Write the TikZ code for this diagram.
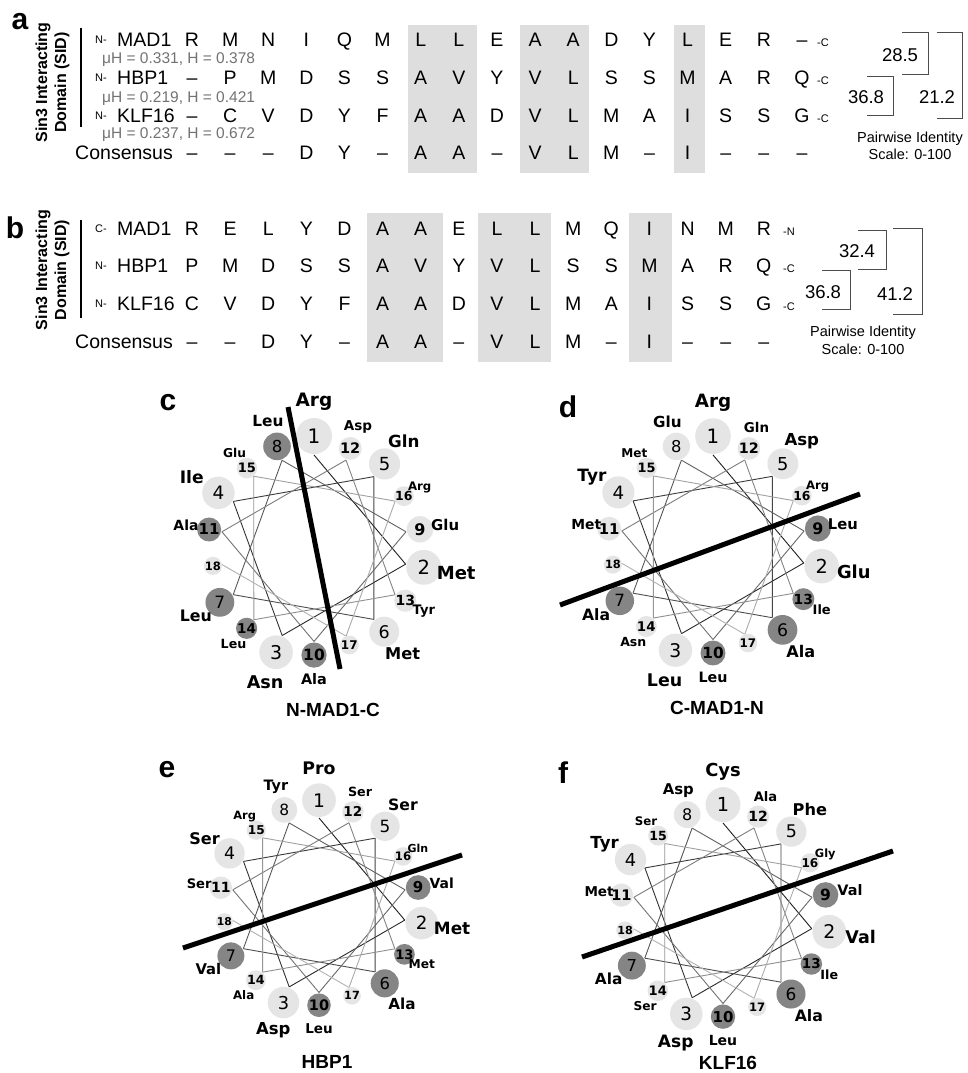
\documentclass[tikz,border=0pt]{standalone}
\usepackage{fontspec}
\setmainfont{Liberation Sans}
\newfontfamily\wheelfont{DejaVu Sans}
\usetikzlibrary{positioning,calc}
\definecolor{boxgrey}{gray}{0.87}
\definecolor{resLight}{gray}{0.9}
\definecolor{resDark}{gray}{0.52}
\definecolor{muGrey}{gray}{0.45}

\tikzset{
  aa/.style={anchor=base, inner sep=0pt, font=\fontsize{19.5}{20}\selectfont},
  seqname/.style={anchor=base west, inner sep=0pt, font=\fontsize{19.5}{20}\selectfont},
  consname/.style={anchor=base east, inner sep=0pt, font=\fontsize{19.5}{20}\selectfont},
  term/.style={anchor=base west, inner sep=0pt, font=\fontsize{11}{11}\selectfont},
  mutext/.style={anchor=base west, inner sep=0pt, text=muGrey, font=\fontsize{15.5}{16}\selectfont},
  consbox/.style={fill=boxgrey, draw=none},
  panel/.style={inner sep=0pt, font=\fontsize{30}{30}\selectfont\bfseries},
  sidtext/.style={rotate=90, inner sep=0pt, align=center, font=\fontsize{16}{19}\selectfont\bfseries},
  sidline/.style={line width=1.6pt, black},
  pid/.style={inner sep=0pt, font=\fontsize{18.5}{19}\selectfont},
  pidcap/.style={inner sep=0pt, align=center, font=\fontsize{14.5}{17.5}\selectfont},
  bracket/.style={draw=black!70, line width=1pt},
  res/.style={circle, inner sep=0pt, draw=none},
  reslab/.style={inner sep=0pt, font=\wheelfont\bfseries},
  axisline/.style={line width=5pt, black},
  wtitle/.style={inner sep=0pt, font=\fontsize{19}{20}\selectfont\bfseries},
}

\newdimen\reslabw
\makeatletter
\newcommand\dimnum[1]{\strip@pt#1}
\makeatother
% one row of the alignment: name prefix, baseline, residues
\newcommand\seqrow[3]{%
  \foreach \s [count=\i] in {#3} {
    \node[aa] (#1\i) at ({192+38.12*(\i-1)},#2) {\s};
  }
}
% helical wheel: name, centre x, centre y, scale, residues, axis start, axis end
\newcommand\helwheel[7]{%
  \foreach \n in {1,...,18} {
    \pgfmathsetmacro\ang{mod(100*(\n-1),360)}
    \pgfmathsetmacro\vr{#4*(112-0.55*(\n-1)-(18-0.6*(\n-1))-1)}
    \coordinate (#1v\n) at ({#2+\vr*sin(\ang)},{#3-\vr*cos(\ang)});
  }
  \foreach \n in {1,...,17} {
    \pgfmathtruncatemacro\m{\n+1}
    \pgfmathtruncatemacro\pct{88-3.6*(\n-1)}
    \draw[black!\pct, line width=0.9pt] (#1v\n) -- (#1v\m);
  }
  \foreach \n/\lab/\col in {#5} {
    \pgfmathsetmacro\ang{mod(100*(\n-1),360)}
    \pgfmathsetmacro\R{#4*(112-0.55*(\n-1))}
    \pgfmathsetmacro\d{#4*2*(18-0.6*(\n-1))}
    \pgfmathsetmacro\fs{#4*(20-0.5*(\n-1))}
    \pgfmathsetmacro\ls{#4*(18.5-0.45*(\n-1))}
    \pgfmathsetmacro\Lr{#4*(146-1.6*(\n-1))}
    \settowidth\reslabw{\wheelfont\bfseries\fontsize{\ls}{\ls}\selectfont\lab}
    \edef\lw{\dimnum\reslabw}
    \pgfmathsetmacro\lx{#2+(\Lr+0.5*\lw)*sin(\ang)}
    \pgfmathsetmacro\ly{#3-\Lr*cos(\ang)}
    \node[res, fill=\col, minimum size=\d pt] (#1r\n) at ({#2+\R*sin(\ang)},{#3-\R*cos(\ang)})
      {\wheelfont\fontsize{\fs}{\fs}\selectfont\ifnum\n>8 \bfseries\fi\n};
    \node[reslab] (#1l\n) at (\lx,\ly) {\fontsize{\ls}{\ls}\selectfont\lab};
  }
  \coordinate (#1a1) at (#6);
  \coordinate (#1a2) at (#7);
  \draw[axisline] (#1a1) -- (#1a2);
}

\begin{document}
\begin{tikzpicture}[x=1pt,y=-1pt]
\useasboundingbox (0,0) rectangle (968,1073);
\fill[white] (0,0) rectangle (968,1073);

% ---- panel a ----
\fill[consbox] (408,25) rectangle (477,173);
\fill[consbox] (520,25) rectangle (589,173);
\fill[consbox] (674,25) rectangle (705,173);
\node[panel] (pa) at (20,22) {a};
\node[sidtext] (sida) at (52.5,82.5) {Sin3 Interacting\\Domain (SID)};
\draw[sidline] (81,28) -- (81,127);

\node[term] (aMn) at (95,44) {N-};
\node[seqname] (aMname) at (117,47) {MAD1};
\seqrow{aM}{47}{R,M,N,I,Q,M,L,L,E,A,A,D,Y,L,E,R,–}
\node[term] (aMc) at (817,47) {-C};
\node[mutext] (aMmu) at (102,63.8) {μH = 0.331, H = 0.378};

\node[term] (aHn) at (95,81.5) {N-};
\node[seqname] (aHname) at (117,84.5) {HBP1};
\seqrow{aH}{84.5}{–,P,M,D,S,S,A,V,Y,V,L,S,S,M,A,R,Q}
\node[term] (aHc) at (817,84.5) {-C};
\node[mutext] (aHmu) at (102,102.2) {μH = 0.219, H = 0.421};

\node[term] (aKn) at (95,119) {N-};
\node[seqname] (aKname) at (117,122) {KLF16};
\seqrow{aK}{122}{–,C,V,D,Y,F,A,A,D,V,L,M,A,I,S,S,G}
\node[term] (aKc) at (817,122) {-C};
\node[mutext] (aKmu) at (102,138.8) {μH = 0.237, H = 0.672};

\node[consname] (aCname) at (173,159.5) {Consensus};
\seqrow{aC}{159.5}{–,–,–,D,Y,–,A,A,–,V,L,M,–,I,–,–,–}

\draw[bracket] (902,33) -- (928,33) -- (928,74) -- (902,74);
\draw[bracket] (867,76) -- (893,76) -- (893,115) -- (867,115);
\draw[bracket] (937,33) -- (962,33) -- (962,118) -- (937,118);
\node[pid] (pa1) at (900,55) {28.5};
\node[pid] (pa2) at (866,97) {36.8};
\node[pid] (pa3) at (937,97) {21.2};
\node[pidcap] (pacap) at (910,146) {Pairwise Identity\\Scale: 0-100};

% ---- panel b ----
\fill[consbox] (367,213) rectangle (443,362);
\fill[consbox] (478,213) rectangle (551,362);
\fill[consbox] (629,213) rectangle (672,362);
\node[panel] (pb) at (15,228) {b};
\node[sidtext] (sidb) at (52.5,270) {Sin3 Interacting\\Domain (SID)};
\draw[sidline] (81,220) -- (81,318);

\node[term] (bMn) at (95,232) {C-};
\node[seqname] (bMname) at (117,235) {MAD1};
\seqrow{bM}{235}{R,E,L,Y,D,A,A,E,L,L,M,Q,I,N,M,R}
\node[term] (bMc) at (783,235) {-N};

\node[term] (bHn) at (95,269.5) {N-};
\node[seqname] (bHname) at (117,272.5) {HBP1};
\seqrow{bH}{272.5}{P,M,D,S,S,A,V,Y,V,L,S,S,M,A,R,Q}
\node[term] (bHc) at (783,272.5) {-C};

\node[term] (bKn) at (95,307) {N-};
\node[seqname] (bKname) at (117,310) {KLF16};
\seqrow{bK}{310}{C,V,D,Y,F,A,A,D,V,L,M,A,I,S,S,G}
\node[term] (bKc) at (783,310) {-C};

\node[consname] (bCname) at (173,348) {Consensus};
\seqrow{bC}{348}{–,–,D,Y,–,A,A,–,V,L,M,–,I,–,–,–}

\draw[bracket] (858,230) -- (886,230) -- (886,269) -- (858,269);
\draw[bracket] (822,270) -- (850,270) -- (850,309) -- (822,309);
\draw[bracket] (893,228) -- (922,228) -- (922,314) -- (893,314);
\node[pid] (pb1) at (857,251) {32.4};
\node[pid] (pb2) at (823,292) {36.8};
\node[pid] (pb3) at (895,294) {41.2};
\node[pidcap] (pbcap) at (863,340.5) {Pairwise Identity\\Scale: 0-100};

% ---- helical wheels ----
\node[panel] (pc) at (168,403) {c};
\helwheel{wc}{314}{548}{1.0}{1/Arg/resLight,2/Met/resLight,3/Asn/resLight,4/Ile/resLight,5/Gln/resLight,6/Met/resLight,7/Leu/resDark,8/Leu/resDark,9/Glu/resLight,10/Ala/resDark,11/Ala/resDark,12/Asp/resLight,13/Tyr/resLight,14/Leu/resDark,15/Glu/resLight,16/Arg/resLight,17//resLight,18//resLight}{288,407}{340,669}
\node[wtitle] (tc) at (333,710) {N-MAD1-C};

\node[panel] (pd) at (568,407) {d};
\helwheel{wd}{713}{547}{0.99}{1/Arg/resLight,2/Glu/resLight,3/Leu/resLight,4/Tyr/resLight,5/Asp/resLight,6/Ala/resDark,7/Ala/resDark,8/Glu/resLight,9/Leu/resDark,10/Leu/resDark,11/Met/resLight,12/Gln/resLight,13/Ile/resDark,14/Asn/resLight,15/Met/resLight,16/Arg/resLight,17//resLight,18//resLight}{560,605}{860,494}
\node[wtitle] (td) at (717,708) {C-MAD1-N};

\node[panel] (pe) at (167,770) {e};
\helwheel{we}{319}{905}{0.936}{1/Pro/resLight,2/Met/resLight,3/Asp/resLight,4/Ser/resLight,5/Ser/resLight,6/Ala/resDark,7/Val/resDark,8/Tyr/resLight,9/Val/resDark,10/Leu/resDark,11/Ser/resLight,12/Ser/resLight,13/Met/resDark,14/Ala/resLight,15/Arg/resLight,16/Gln/resLight,17//resLight,18//resLight}{183,948}{462,855}
\node[wtitle] (te) at (327,1062) {HBP1};

\node[panel] (pf) at (563,773) {f};
\helwheel{wf}{723}{913}{0.968}{1/Cys/resLight,2/Val/resLight,3/Asp/resLight,4/Tyr/resLight,5/Phe/resLight,6/Ala/resDark,7/Ala/resDark,8/Asp/resLight,9/Val/resDark,10/Leu/resDark,11/Met/resLight,12/Ala/resLight,13/Ile/resDark,14/Ser/resLight,15/Ser/resLight,16/Gly/resLight,17//resLight,18//resLight}{582,957}{893,851}
\node[wtitle] (tf) at (728,1063) {KLF16};
\end{tikzpicture}
\end{document}
